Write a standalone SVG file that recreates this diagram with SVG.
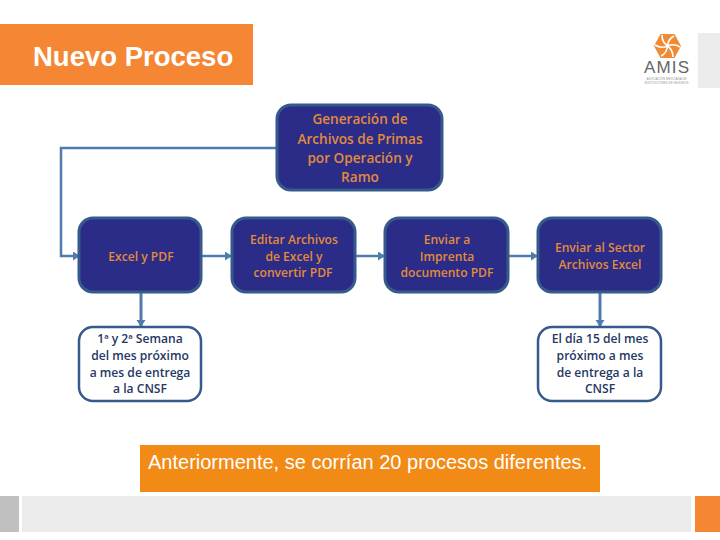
<svg xmlns="http://www.w3.org/2000/svg" width="720" height="540" viewBox="0 0 720 540">
<style>
.t{font-family:"Open Sans","Noto Sans",sans-serif;font-weight:600;font-size:12.1px;text-anchor:middle}
.big{font-size:13.600px}
.o{fill:#e28a3e}.d{fill:#1f3864}
.dark{fill:#2a2c87;stroke:#375a8c;stroke-width:3}
.light{fill:#fff;stroke:#375a8c;stroke-width:2.500}
.c{fill:none;stroke:#4f7cac;stroke-width:2.500;marker-end:url(#a)}
.v{stroke-width:3}
.s{font-family:"Liberation Sans",sans-serif;font-size:3px;fill:#999;text-anchor:middle}
</style>
<defs>
<marker id="a" markerUnits="userSpaceOnUse" markerWidth="9" markerHeight="10" refX="7" refY="4.500" orient="auto"><path d="M0 0L7 4.500L0 9Z" fill="#4f7cac"/></marker>
</defs>
<rect width="720" height="540" fill="#fff"/>
<g id="header"><rect x="0" y="24" width="253" height="61" fill="#f58634"/><text x="33" y="66" font-family="Liberation Sans,sans-serif" font-weight="700" font-size="27.500" fill="#fff">Nuevo Proceso</text></g>
<g id="logo">
<path d="M654 46L660.500 34H674.500L681 46L674.500 58H660.500Z" fill="#f08a35"/>
<g fill="none" stroke="#fff" stroke-width="1.600">
<path d="M667.500 46Q662 42 662 35"/>
<path d="M667.500 46Q668 39 674 36"/>
<path d="M667.500 46Q674 43 680 47"/>
<path d="M667.500 46Q673 50 673 57"/>
<path d="M667.500 46Q667 53 661 56"/>
<path d="M667.500 46Q661 49 655 45"/>
</g>
<text x="666.500" y="73" font-family="Liberation Sans,sans-serif" font-size="17" fill="#666" text-anchor="middle" textLength="45">AMIS</text>
<text class="s" x="666.500" y="79.500">ASOCIACIÓN MEXICANA DE</text>
<text class="s" x="666.500" y="84">INSTITUCIONES DE SEGUROS</text>
</g>
<rect x="698" y="33" width="22" height="55" fill="#ebebeb"/>
<g id="connectors">
<path class="c" d="M277 148H61V256H80"/>
<path class="c" d="M201 256H232"/>
<path class="c" d="M355 256H385"/>
<path class="c" d="M508 256H538"/>
<path class="c v" d="M141 292V327"/>
<path class="c v" d="M600 292V327"/>
</g>
<g id="n1"><rect class="dark" x="277" y="105" width="165" height="85" rx="14"/><text class="t big o" x="360" y="124">Generación de</text><text class="t big o" x="360" y="144">Archivos de Primas</text><text class="t big o" x="360" y="163">por Operación y</text><text class="t big o" x="360" y="182">Ramo</text></g>
<g id="n2"><rect class="dark" x="79" y="218" width="122" height="74" rx="14"/><text class="t o" x="141" y="261">Excel y PDF</text></g>
<g id="n3"><rect class="dark" x="232" y="218" width="123" height="74" rx="14"/><text class="t o" x="294" y="244">Editar Archivos</text><text class="t o" x="294" y="261">de Excel y</text><text class="t o" x="293" y="277">convertir PDF</text></g>
<g id="n4"><rect class="dark" x="385" y="218" width="123" height="74" rx="14"/><text class="t o" x="447" y="244">Enviar a</text><text class="t o" x="447" y="261">Imprenta</text><text class="t o" x="447" y="277">documento PDF</text></g>
<g id="n5"><rect class="dark" x="538" y="218" width="123" height="74" rx="14"/><text class="t o" x="600" y="252">Enviar al Sector</text><text class="t o" x="600" y="269">Archivos Excel</text></g>
<g id="n6"><rect class="light" x="79" y="327" width="122" height="74" rx="14"/><text class="t d" x="140" y="343">1ª y 2ª Semana</text><text class="t d" x="140" y="360">del mes próximo</text><text class="t d" x="140" y="377">a mes de entrega</text><text class="t d" x="140" y="393">a la CNSF</text></g>
<g id="n7"><rect class="light" x="538" y="327" width="123" height="74" rx="14"/><text class="t d" x="600" y="343">El día 15 del mes</text><text class="t d" x="600" y="360">próximo a mes</text><text class="t d" x="600" y="377">de entrega a la</text><text class="t d" x="600" y="393">CNSF</text></g>
<g id="note"><rect x="140" y="445" width="460" height="47" fill="#f28a16"/><text x="148" y="469" font-family="Liberation Sans,sans-serif" font-size="20" fill="#fff">Anteriormente, se corrían 20 procesos diferentes.</text></g>
<g id="footer"><rect x="0" y="496" width="19" height="36" fill="#c0c0c0"/><rect x="22" y="496" width="669" height="36" fill="#ebebeb"/><rect x="695" y="496" width="25" height="36" fill="#f58634"/></g>
</svg>
